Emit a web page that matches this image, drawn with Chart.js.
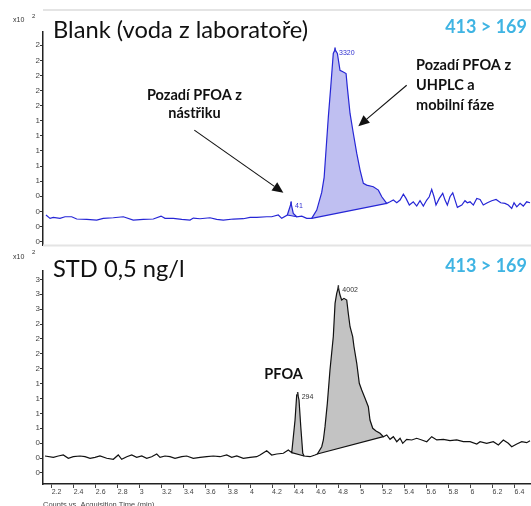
<!DOCTYPE html>
<html>
<head>
<meta charset="utf-8">
<script src="https://cdn.jsdelivr.net/npm/chart.js@4.4.1/dist/chart.umd.min.js"></script>
<style>
  html, body { margin: 0; padding: 0; background: #fff; }
  #wrap { position: relative; width: 531px; height: 506px; overflow: hidden; }
  .panel { position: absolute; left: 0; width: 531px; }
  #blankBox { top: 0; height: 252px; }
  #stdBox { top: 240px; height: 266px; }
</style>
</head>
<body>
<div id="wrap">
  <div class="panel" id="blankBox"><canvas id="blankChart"></canvas></div>
  <div class="panel" id="stdBox"><canvas id="stdChart"></canvas></div>
</div>
<script>
// acquisition time axis (min)
const timeRange = [2.121, 6.549];
const timeTicks = [2.2, 2.4, 2.6, 2.8, 3, 3.2, 3.4, 3.6, 3.8, 4, 4.2, 4.4, 4.6, 4.8, 5, 5.2, 5.4, 5.6, 5.8, 6, 6.2, 6.4];

// Blank (voda z laboratore), counts x10^2
const blankRange = [0.154, 2.975];
const blankTicks = [0.2, 0.4, 0.6, 0.8, 1, 1.2, 1.4, 1.6, 1.8, 2, 2.2, 2.4, 2.6, 2.8];
const blankTime = [
    2.148, 2.185, 2.215, 2.275, 2.321, 2.381, 2.427, 2.518, 2.608, 2.668, 2.759, 2.85, 2.94, 3.031,
    3.122, 3.192, 3.228, 3.303, 3.38, 3.455, 3.485, 3.546, 3.636, 3.697, 3.757, 3.848, 3.939, 4.0,
    4.06, 4.151, 4.196, 4.256, 4.287, 4.338, 4.372, 4.392, 4.423, 4.469, 4.514, 4.559, 4.605, 4.65,
    4.672, 4.71, 4.732, 4.755, 4.771, 4.792, 4.816, 4.846, 4.871, 4.882, 4.907, 4.937, 4.968, 4.998,
    5.028, 5.058, 5.118, 5.164, 5.195, 5.24, 5.27, 5.3, 5.331, 5.361, 5.391, 5.415, 5.445, 5.481,
    5.512, 5.542, 5.572, 5.603, 5.626, 5.648, 5.669, 5.687, 5.717, 5.748, 5.769, 5.79, 5.814, 5.839,
    5.86, 5.881, 5.921, 5.95, 5.971, 5.996, 6.026, 6.057, 6.087, 6.116, 6.153, 6.193, 6.232, 6.274,
    6.313, 6.343, 6.374, 6.395, 6.42, 6.45, 6.479, 6.51, 6.54,
];
const blankSignal = [
    0.551, 0.507, 0.52, 0.507, 0.528, 0.528, 0.498, 0.494, 0.484, 0.507, 0.515, 0.528, 0.484, 0.494,
    0.498, 0.537, 0.507, 0.507, 0.494, 0.484, 0.511, 0.502, 0.515, 0.494, 0.484, 0.498, 0.502, 0.52,
    0.52, 0.528, 0.528, 0.551, 0.507, 0.551, 0.705, 0.573, 0.528, 0.537, 0.507, 0.507, 0.617, 0.85,
    1.05, 1.85, 2.248, 2.69, 2.742, 2.69, 2.468, 2.446, 2.425, 2.248, 1.896, 1.631, 1.367, 1.146,
    0.97, 0.947, 0.925, 0.881, 0.793, 0.705, 0.726, 0.749, 0.713, 0.749, 0.828, 0.771, 0.683, 0.726,
    0.67, 0.74, 0.67, 0.749, 0.793, 0.89, 0.793, 0.683, 0.771, 0.838, 0.749, 0.683, 0.793, 0.846,
    0.749, 0.652, 0.683, 0.74, 0.713, 0.726, 0.683, 0.771, 0.758, 0.683, 0.713, 0.74, 0.758, 0.713,
    0.705, 0.683, 0.639, 0.713, 0.66, 0.705, 0.67, 0.726, 0.713,
];
const blankPeaks = [
    { from: 4.559, to: 5.24, label: '3320' },
    { from: 4.338, to: 4.423, label: '41' },
];

// STD 0,5 ng/l, counts x10^2
const stdRange = [0.065, 3.64];
const stdTicks = [0.25, 0.5, 0.75, 1, 1.25, 1.5, 1.75, 2, 2.25, 2.5, 2.75, 3, 3.25, 3.5];
const stdTime = [
    2.139, 2.215, 2.26, 2.305, 2.351, 2.396, 2.457, 2.502, 2.548, 2.593, 2.638, 2.699, 2.759, 2.804,
    2.835, 2.881, 2.926, 2.971, 3.017, 3.062, 3.107, 3.153, 3.183, 3.228, 3.273, 3.319, 3.38, 3.425,
    3.485, 3.546, 3.607, 3.666, 3.727, 3.788, 3.833, 3.879, 3.939, 4.0, 4.06, 4.09, 4.151, 4.196,
    4.242, 4.302, 4.347, 4.378, 4.408, 4.423, 4.432, 4.444, 4.46, 4.478, 4.49, 4.544, 4.589, 4.61,
    4.65, 4.665, 4.68, 4.701, 4.725, 4.755, 4.771, 4.786, 4.801, 4.816, 4.831, 4.852, 4.877, 4.891,
    4.907, 4.931, 4.943, 4.968, 4.991, 5.013, 5.043, 5.073, 5.088, 5.113, 5.143, 5.179, 5.209, 5.24,
    5.27, 5.3, 5.331, 5.361, 5.385, 5.421, 5.467, 5.512, 5.558, 5.603, 5.648, 5.694, 5.754, 5.814,
    5.875, 5.935, 5.996, 6.057, 6.087, 6.147, 6.207, 6.253, 6.298, 6.343, 6.374, 6.42, 6.465, 6.51, 6.54,
];
const stdSignal = [
    0.535, 0.513, 0.535, 0.552, 0.497, 0.523, 0.535, 0.523, 0.497, 0.513, 0.535, 0.497, 0.48, 0.552,
    0.48, 0.523, 0.552, 0.513, 0.535, 0.497, 0.523, 0.569, 0.513, 0.535, 0.523, 0.497, 0.523, 0.535,
    0.497, 0.513, 0.523, 0.535, 0.523, 0.552, 0.513, 0.535, 0.497, 0.513, 0.523, 0.552, 0.624, 0.552,
    0.569, 0.581, 0.636, 0.591, 1.139, 1.559, 1.576, 1.475, 1.027, 0.581, 0.535, 0.523, 0.552, 0.569,
    0.691, 0.804, 1.027, 1.419, 1.978, 2.537, 3.097, 3.265, 3.366, 3.237, 3.153, 3.181, 3.153, 2.93,
    2.705, 2.537, 2.369, 2.091, 1.755, 1.643, 1.503, 1.362, 1.139, 1.0, 0.955, 0.916, 0.859, 0.888,
    0.815, 0.859, 0.775, 0.832, 0.748, 0.815, 0.804, 0.832, 0.804, 0.775, 0.859, 0.804, 0.815, 0.792,
    0.804, 0.775, 0.775, 0.737, 0.775, 0.748, 0.775, 0.72, 0.804, 0.748, 0.691, 0.737, 0.775, 0.758, 0.792,
];
const stdPeaks = [
    { from: 4.61, to: 5.209, label: '4002' },
    { from: 4.378, to: 4.49, label: '294' },
];

const FONT = 'Lato';
const SMALL = '"Liberation Sans"';

function points(times, values) {
    return times.map((t, i) => ({ x: t, y: values[i] }));
}

function peakDatasets(times, values, peaks, line, fillColor) {
    const sets = [];
    peaks.forEach(p => {
        const seg = points(times, values).filter(pt => pt.x >= p.from && pt.x <= p.to);
        // area closed by the integration baseline
        sets.push({
            data: seg, fill: 'shape', backgroundColor: fillColor,
            borderColor: 'rgba(0,0,0,0)', borderWidth: 0, pointRadius: 0, order: 3,
        });
        sets.push({
            data: [seg[0], seg[seg.length - 1]], fill: false, borderColor: line,
            borderWidth: 1.2, pointRadius: 0, order: 2,
        });
    });
    return sets;
}

const panelPlugin = {
    id: 'panel',
    beforeDraw(chart, args, o) {
        const { ctx, chartArea } = chart;
        ctx.save();
        ctx.strokeStyle = '#e4e4e4';
        ctx.lineWidth = 2;
        ctx.beginPath();
        ctx.moveTo(chartArea.left, o.borderY);
        ctx.lineTo(chart.width, o.borderY);
        ctx.stroke();
        ctx.restore();
    },
    afterDraw(chart, args, o) {
        const { ctx, scales: { x, y } } = chart;
        ctx.save();

        // x10^2 multiplier
        ctx.fillStyle = '#333';
        ctx.textBaseline = 'middle';
        ctx.font = `7px ${SMALL}`;
        ctx.fillText('x10', 13, o.multY);
        ctx.font = `6px ${SMALL}`;
        ctx.fillText('2', 32, o.multY - 4);

        // panel title + transition
        ctx.textBaseline = 'alphabetic';
        ctx.fillStyle = '#111';
        ctx.font = `23.7px ${FONT}`;
        ctx.fillText(o.title, 53, o.titleY);
        ctx.fillStyle = '#3fb4e3';
        ctx.font = `bold 18px ${FONT}`;
        ctx.textAlign = 'right';
        ctx.fillText('413 > 169', 527, o.mrmY);
        ctx.textAlign = 'left';

        // peak apex labels
        o.peaks.forEach(p => {
            let best = null;
            chart.data.datasets[0].data.forEach(pt => {
                if (pt.x >= p.from && pt.x <= p.to && (!best || pt.y > best.y)) best = pt;
            });
            const px = x.getPixelForValue(best.x);
            const py = y.getPixelForValue(best.y);
            ctx.strokeStyle = o.peakColor;
            ctx.lineWidth = 1.5;
            ctx.beginPath();
            ctx.moveTo(px, py - 2);
            ctx.lineTo(px, py + 2);
            ctx.stroke();
            ctx.fillStyle = o.peakColor;
            ctx.font = `7px ${SMALL}`;
            ctx.textBaseline = 'middle';
            ctx.fillText(p.label, px + 4, py + 3);
        });

        // notes
        ctx.fillStyle = '#111';
        ctx.textBaseline = 'alphabetic';
        ctx.font = `bold 14.5px ${FONT}`;
        o.notes.forEach(n => {
            ctx.textAlign = n.align || 'left';
            ctx.fillText(n.text, x.getPixelForValue(n.t), y.getPixelForValue(n.v));
        });
        ctx.textAlign = 'left';

        // arrows
        ctx.strokeStyle = '#111';
        ctx.fillStyle = '#111';
        ctx.lineWidth = 1.1;
        o.arrows.forEach(a => {
            const x1 = x.getPixelForValue(a[0][0]), y1 = y.getPixelForValue(a[0][1]);
            const x2 = x.getPixelForValue(a[1][0]), y2 = y.getPixelForValue(a[1][1]);
            const ang = Math.atan2(y2 - y1, x2 - x1);
            const hl = 11, hw = 5;
            const bx = x2 - hl * Math.cos(ang), by = y2 - hl * Math.sin(ang);
            ctx.beginPath();
            ctx.moveTo(x1, y1);
            ctx.lineTo(bx, by);
            ctx.stroke();
            ctx.beginPath();
            ctx.moveTo(x2, y2);
            ctx.lineTo(bx + hw * Math.sin(ang), by - hw * Math.cos(ang));
            ctx.lineTo(bx - hw * Math.sin(ang), by + hw * Math.cos(ang));
            ctx.closePath();
            ctx.fill();
        });

        if (o.axisTitle) {
            ctx.fillStyle = '#444';
            ctx.font = `7.5px ${SMALL}`;
            ctx.fillText(o.axisTitle, 43, chart.height + 0.5);
        }
        ctx.restore();
    },
};

function timeAxis(show) {
    return {
        type: 'linear',
        min: timeRange[0],
        max: timeRange[1],
        display: show,
        afterBuildTicks: s => { s.ticks = timeTicks.map(v => ({ value: v })); },
        afterFit: s => { s.height = show ? 22 : 0; },
        grid: { drawOnChartArea: false, tickLength: 4, color: '#444' },
        border: { color: '#222', width: 1.5 },
        ticks: {
            align: 'start', padding: 0, color: '#444', maxRotation: 0, autoSkip: false,
            font: { size: 7, family: 'Liberation Sans' },
            callback: v => String(+v.toFixed(1)),
        },
    };
}

function signalAxis(range, ticks) {
    return {
        min: range[0],
        max: range[1],
        afterBuildTicks: s => { s.ticks = ticks.map(v => ({ value: v })); },
        afterFit: s => { s.width = 43; },
        grid: { drawOnChartArea: false, tickLength: 3, color: '#333' },
        border: { color: '#222', width: 1.5 },
        ticks: {
            padding: 0, color: '#444',
            font: { size: 8, family: 'Liberation Sans' },
            callback: v => String(Math.floor(v + 1e-6)),
        },
    };
}

function makeChart(id, cfg) {
    return new Chart(document.getElementById(id), {
        type: 'line',
        data: {
            datasets: [
                {
                    data: points(cfg.times, cfg.values), borderColor: cfg.line, borderWidth: 1.2,
                    pointRadius: 0, fill: false, order: 1,
                },
                ...peakDatasets(cfg.times, cfg.values, cfg.peaks, cfg.line, cfg.fill),
            ],
        },
        options: {
            responsive: true,
            maintainAspectRatio: false,
            animation: false,
            layout: { padding: cfg.padding },
            plugins: {
                legend: { display: false },
                tooltip: { enabled: false },
                panel: cfg.panel,
            },
            scales: {
                x: timeAxis(cfg.showTime),
                y: signalAxis(cfg.range, cfg.ticks),
            },
        },
        plugins: [panelPlugin],
    });
}

makeChart('blankChart', {
    times: blankTime, values: blankSignal, peaks: blankPeaks,
    line: '#2626d6', fill: '#bfbff1',
    range: blankRange, ticks: blankTicks, showTime: false,
    padding: { top: 32, bottom: 7, left: 0, right: 0 },
    panel: {
        borderY: 10, multY: 20, titleY: 38, mrmY: 33,
        title: 'Blank (voda z laboratoře)',
        peaks: blankPeaks, peakColor: '#2f2fd0',
        notes: [
            { text: 'Pozadí PFOA z', t: 3.495, v: 2.072, align: 'center' },
            { text: 'nástřiku', t: 3.495, v: 1.83, align: 'center' },
            { text: 'Pozadí PFOA z', t: 5.506, v: 2.469 },
            { text: 'UHPLC a', t: 5.506, v: 2.204 },
            { text: 'mobilní fáze', t: 5.506, v: 1.939 },
        ],
        arrows: [
            [[3.494, 1.675], [4.302, 0.846]],
            [[5.421, 2.27], [4.982, 1.728]],
        ],
    },
});

makeChart('stdChart', {
    times: stdTime, values: stdSignal, peaks: stdPeaks,
    line: '#111111', fill: '#c3c3c3',
    range: stdRange, ticks: stdTicks, showTime: true,
    padding: { top: 31, bottom: 0, left: 0, right: 0 },
    panel: {
        borderY: 5.5, multY: 16.7, titleY: 36.7, mrmY: 31.7,
        title: 'STD 0,5 ng/l',
        peaks: stdPeaks, peakColor: '#333333',
        notes: [
            { text: 'PFOA', t: 4.129, v: 1.822 },
        ],
        arrows: [],
        axisTitle: 'Counts vs. Acquisition Time (min)',
    },
});
</script>
</body>
</html>
